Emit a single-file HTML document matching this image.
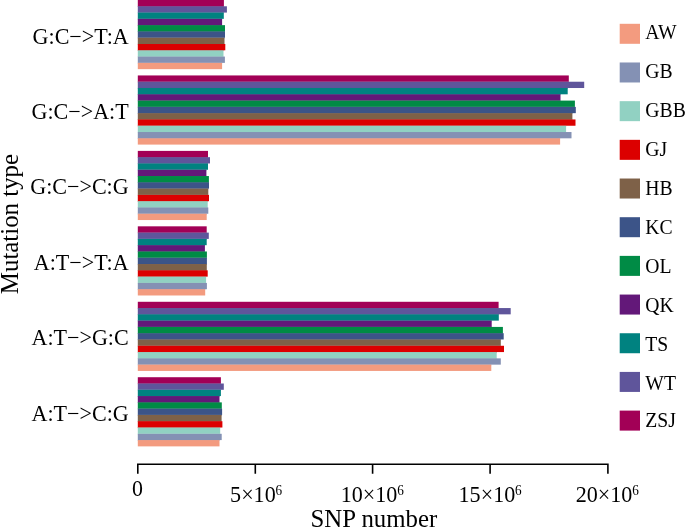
<!DOCTYPE html><html><head><meta charset="utf-8"><style>html,body{margin:0;padding:0;background:#fff;width:685px;height:528px;overflow:hidden}svg{display:block;will-change:transform}text{font-family:"Liberation Serif",serif;fill:#000;}</style></head><body>
<svg width="685" height="528" viewBox="0 0 685 528">
<rect x="137.8" y="0.00" width="86.10" height="6.287" fill="#A20056"/>
<rect x="137.8" y="6.19" width="86.10" height="0.7" fill="#A20056"/>
<rect x="137.8" y="6.29" width="89.10" height="6.287" fill="#5F559B"/>
<rect x="137.8" y="12.47" width="86.00" height="0.7" fill="#5F559B"/>
<rect x="137.8" y="12.57" width="86.00" height="6.287" fill="#008280"/>
<rect x="137.8" y="18.76" width="84.30" height="0.7" fill="#008280"/>
<rect x="137.8" y="18.86" width="84.30" height="6.287" fill="#631879"/>
<rect x="137.8" y="25.05" width="84.30" height="0.7" fill="#631879"/>
<rect x="137.8" y="25.15" width="87.20" height="6.287" fill="#008B45"/>
<rect x="137.8" y="31.33" width="87.20" height="0.7" fill="#008B45"/>
<rect x="137.8" y="31.43" width="87.20" height="6.287" fill="#3C5488"/>
<rect x="137.8" y="37.62" width="86.70" height="0.7" fill="#3C5488"/>
<rect x="137.8" y="37.72" width="86.70" height="6.287" fill="#7E6148"/>
<rect x="137.8" y="43.91" width="86.70" height="0.7" fill="#7E6148"/>
<rect x="137.8" y="44.01" width="87.50" height="6.287" fill="#DC0000"/>
<rect x="137.8" y="50.20" width="85.70" height="0.7" fill="#DC0000"/>
<rect x="137.8" y="50.30" width="85.70" height="6.287" fill="#91D1C2"/>
<rect x="137.8" y="56.48" width="85.70" height="0.7" fill="#91D1C2"/>
<rect x="137.8" y="56.58" width="87.10" height="6.287" fill="#8491B4"/>
<rect x="137.8" y="62.77" width="84.30" height="0.7" fill="#8491B4"/>
<rect x="137.8" y="62.87" width="84.30" height="6.287" fill="#F39B7F"/>
<rect x="137.8" y="75.44" width="431.00" height="6.287" fill="#A20056"/>
<rect x="137.8" y="81.63" width="431.00" height="0.7" fill="#A20056"/>
<rect x="137.8" y="81.73" width="446.40" height="6.287" fill="#5F559B"/>
<rect x="137.8" y="87.92" width="429.90" height="0.7" fill="#5F559B"/>
<rect x="137.8" y="88.02" width="429.90" height="6.287" fill="#008280"/>
<rect x="137.8" y="94.21" width="422.70" height="0.7" fill="#008280"/>
<rect x="137.8" y="94.30" width="422.70" height="6.287" fill="#631879"/>
<rect x="137.8" y="100.49" width="422.70" height="0.7" fill="#631879"/>
<rect x="137.8" y="100.59" width="437.10" height="6.287" fill="#008B45"/>
<rect x="137.8" y="106.78" width="437.10" height="0.7" fill="#008B45"/>
<rect x="137.8" y="106.88" width="438.00" height="6.287" fill="#3C5488"/>
<rect x="137.8" y="113.07" width="434.60" height="0.7" fill="#3C5488"/>
<rect x="137.8" y="113.17" width="434.60" height="6.287" fill="#7E6148"/>
<rect x="137.8" y="119.35" width="434.60" height="0.7" fill="#7E6148"/>
<rect x="137.8" y="119.45" width="437.70" height="6.287" fill="#DC0000"/>
<rect x="137.8" y="125.64" width="428.30" height="0.7" fill="#DC0000"/>
<rect x="137.8" y="125.74" width="428.30" height="6.287" fill="#91D1C2"/>
<rect x="137.8" y="131.93" width="428.30" height="0.7" fill="#91D1C2"/>
<rect x="137.8" y="132.03" width="433.70" height="6.287" fill="#8491B4"/>
<rect x="137.8" y="138.21" width="422.30" height="0.7" fill="#8491B4"/>
<rect x="137.8" y="138.31" width="422.30" height="6.287" fill="#F39B7F"/>
<rect x="137.8" y="150.89" width="70.20" height="6.287" fill="#A20056"/>
<rect x="137.8" y="157.08" width="70.20" height="0.7" fill="#A20056"/>
<rect x="137.8" y="157.18" width="72.20" height="6.287" fill="#5F559B"/>
<rect x="137.8" y="163.36" width="70.20" height="0.7" fill="#5F559B"/>
<rect x="137.8" y="163.46" width="70.20" height="6.287" fill="#008280"/>
<rect x="137.8" y="169.65" width="68.60" height="0.7" fill="#008280"/>
<rect x="137.8" y="169.75" width="68.60" height="6.287" fill="#631879"/>
<rect x="137.8" y="175.94" width="68.60" height="0.7" fill="#631879"/>
<rect x="137.8" y="176.04" width="71.10" height="6.287" fill="#008B45"/>
<rect x="137.8" y="182.22" width="71.10" height="0.7" fill="#008B45"/>
<rect x="137.8" y="182.32" width="71.20" height="6.287" fill="#3C5488"/>
<rect x="137.8" y="188.51" width="70.50" height="0.7" fill="#3C5488"/>
<rect x="137.8" y="188.61" width="70.50" height="6.287" fill="#7E6148"/>
<rect x="137.8" y="194.80" width="70.50" height="0.7" fill="#7E6148"/>
<rect x="137.8" y="194.90" width="71.20" height="6.287" fill="#DC0000"/>
<rect x="137.8" y="201.08" width="69.90" height="0.7" fill="#DC0000"/>
<rect x="137.8" y="201.18" width="69.90" height="6.287" fill="#91D1C2"/>
<rect x="137.8" y="207.37" width="69.90" height="0.7" fill="#91D1C2"/>
<rect x="137.8" y="207.47" width="70.50" height="6.287" fill="#8491B4"/>
<rect x="137.8" y="213.66" width="68.90" height="0.7" fill="#8491B4"/>
<rect x="137.8" y="213.76" width="68.90" height="6.287" fill="#F39B7F"/>
<rect x="137.8" y="226.33" width="68.90" height="6.287" fill="#A20056"/>
<rect x="137.8" y="232.52" width="68.90" height="0.7" fill="#A20056"/>
<rect x="137.8" y="232.62" width="71.00" height="6.287" fill="#5F559B"/>
<rect x="137.8" y="238.81" width="68.90" height="0.7" fill="#5F559B"/>
<rect x="137.8" y="238.91" width="68.90" height="6.287" fill="#008280"/>
<rect x="137.8" y="245.09" width="67.10" height="0.7" fill="#008280"/>
<rect x="137.8" y="245.19" width="67.10" height="6.287" fill="#631879"/>
<rect x="137.8" y="251.38" width="67.10" height="0.7" fill="#631879"/>
<rect x="137.8" y="251.48" width="69.10" height="6.287" fill="#008B45"/>
<rect x="137.8" y="257.67" width="69.10" height="0.7" fill="#008B45"/>
<rect x="137.8" y="257.77" width="69.10" height="6.287" fill="#3C5488"/>
<rect x="137.8" y="263.95" width="69.00" height="0.7" fill="#3C5488"/>
<rect x="137.8" y="264.05" width="69.00" height="6.287" fill="#7E6148"/>
<rect x="137.8" y="270.24" width="69.00" height="0.7" fill="#7E6148"/>
<rect x="137.8" y="270.34" width="69.90" height="6.287" fill="#DC0000"/>
<rect x="137.8" y="276.53" width="68.30" height="0.7" fill="#DC0000"/>
<rect x="137.8" y="276.63" width="68.30" height="6.287" fill="#91D1C2"/>
<rect x="137.8" y="282.81" width="68.30" height="0.7" fill="#91D1C2"/>
<rect x="137.8" y="282.92" width="69.10" height="6.287" fill="#8491B4"/>
<rect x="137.8" y="289.10" width="67.40" height="0.7" fill="#8491B4"/>
<rect x="137.8" y="289.20" width="67.40" height="6.287" fill="#F39B7F"/>
<rect x="137.8" y="301.78" width="360.80" height="6.287" fill="#A20056"/>
<rect x="137.8" y="307.96" width="360.80" height="0.7" fill="#A20056"/>
<rect x="137.8" y="308.06" width="372.90" height="6.287" fill="#5F559B"/>
<rect x="137.8" y="314.25" width="361.00" height="0.7" fill="#5F559B"/>
<rect x="137.8" y="314.35" width="361.00" height="6.287" fill="#008280"/>
<rect x="137.8" y="320.54" width="353.90" height="0.7" fill="#008280"/>
<rect x="137.8" y="320.64" width="353.90" height="6.287" fill="#631879"/>
<rect x="137.8" y="326.82" width="353.90" height="0.7" fill="#631879"/>
<rect x="137.8" y="326.92" width="365.10" height="6.287" fill="#008B45"/>
<rect x="137.8" y="333.11" width="365.10" height="0.7" fill="#008B45"/>
<rect x="137.8" y="333.21" width="365.90" height="6.287" fill="#3C5488"/>
<rect x="137.8" y="339.40" width="363.00" height="0.7" fill="#3C5488"/>
<rect x="137.8" y="339.50" width="363.00" height="6.287" fill="#7E6148"/>
<rect x="137.8" y="345.68" width="363.00" height="0.7" fill="#7E6148"/>
<rect x="137.8" y="345.78" width="366.20" height="6.287" fill="#DC0000"/>
<rect x="137.8" y="351.97" width="358.90" height="0.7" fill="#DC0000"/>
<rect x="137.8" y="352.07" width="358.90" height="6.287" fill="#91D1C2"/>
<rect x="137.8" y="358.26" width="358.90" height="0.7" fill="#91D1C2"/>
<rect x="137.8" y="358.36" width="363.00" height="6.287" fill="#8491B4"/>
<rect x="137.8" y="364.55" width="353.50" height="0.7" fill="#8491B4"/>
<rect x="137.8" y="364.65" width="353.50" height="6.287" fill="#F39B7F"/>
<rect x="137.8" y="377.22" width="83.10" height="6.287" fill="#A20056"/>
<rect x="137.8" y="383.41" width="83.10" height="0.7" fill="#A20056"/>
<rect x="137.8" y="383.51" width="86.00" height="6.287" fill="#5F559B"/>
<rect x="137.8" y="389.69" width="83.10" height="0.7" fill="#5F559B"/>
<rect x="137.8" y="389.79" width="83.10" height="6.287" fill="#008280"/>
<rect x="137.8" y="395.98" width="81.70" height="0.7" fill="#008280"/>
<rect x="137.8" y="396.08" width="81.70" height="6.287" fill="#631879"/>
<rect x="137.8" y="402.27" width="81.70" height="0.7" fill="#631879"/>
<rect x="137.8" y="402.37" width="84.00" height="6.287" fill="#008B45"/>
<rect x="137.8" y="408.55" width="84.00" height="0.7" fill="#008B45"/>
<rect x="137.8" y="408.65" width="84.30" height="6.287" fill="#3C5488"/>
<rect x="137.8" y="414.84" width="83.80" height="0.7" fill="#3C5488"/>
<rect x="137.8" y="414.94" width="83.80" height="6.287" fill="#7E6148"/>
<rect x="137.8" y="421.13" width="83.80" height="0.7" fill="#7E6148"/>
<rect x="137.8" y="421.23" width="84.60" height="6.287" fill="#DC0000"/>
<rect x="137.8" y="427.42" width="82.40" height="0.7" fill="#DC0000"/>
<rect x="137.8" y="427.52" width="82.40" height="6.287" fill="#91D1C2"/>
<rect x="137.8" y="433.70" width="82.40" height="0.7" fill="#91D1C2"/>
<rect x="137.8" y="433.80" width="83.90" height="6.287" fill="#8491B4"/>
<rect x="137.8" y="439.99" width="81.70" height="0.7" fill="#8491B4"/>
<rect x="137.8" y="440.09" width="81.70" height="6.287" fill="#F39B7F"/>
<path d="M137.0 464.2H608.7M137.8 464.2V473.7M255.3 464.2V473.7M372.6 464.2V473.7M490.1 464.2V473.7M607.9 464.2V473.7" stroke="#000" stroke-width="1.6" fill="none"/>
<text transform="translate(128.70,43.50) scale(0.977,1)" font-size="22.6" text-anchor="end">G:C−>T:A</text>
<text transform="translate(128.70,118.94) scale(0.977,1)" font-size="22.6" text-anchor="end">G:C−>A:T</text>
<text transform="translate(128.70,194.39) scale(0.977,1)" font-size="22.6" text-anchor="end">G:C−>C:G</text>
<text transform="translate(128.70,269.83) scale(0.977,1)" font-size="22.6" text-anchor="end">A:T−>T:A</text>
<text transform="translate(128.70,345.28) scale(0.977,1)" font-size="22.6" text-anchor="end">A:T−>G:C</text>
<text transform="translate(128.70,420.72) scale(0.977,1)" font-size="22.6" text-anchor="end">A:T−>C:G</text>
<text transform="translate(137.40,496.40) scale(0.96,1)" font-size="22.8" text-anchor="middle">0</text>
<text transform="translate(256.10,501.90) scale(0.97,1)" font-size="22.8" text-anchor="middle">5×10<tspan font-size="13.6" dx="-0.2" dy="-7.2">6</tspan></text>
<text transform="translate(372.20,501.90) scale(0.97,1)" font-size="22.8" text-anchor="middle">10×10<tspan font-size="13.6" dx="-0.2" dy="-7.2">6</tspan></text>
<text transform="translate(490.10,501.90) scale(0.97,1)" font-size="22.8" text-anchor="middle">15×10<tspan font-size="13.6" dx="-0.2" dy="-7.2">6</tspan></text>
<text transform="translate(607.20,501.90) scale(0.97,1)" font-size="22.8" text-anchor="middle">20×10<tspan font-size="13.6" dx="-0.2" dy="-7.2">6</tspan></text>
<text transform="translate(373.90,526.70) scale(0.994,1)" font-size="25" text-anchor="middle">SNP number</text>
<text transform="translate(17.6,224.05) rotate(-90) scale(1.024,1)" font-size="24.3" text-anchor="middle">Mutation type</text>
<rect x="619.7" y="23.80" width="20.3" height="20" fill="#F39B7F"/>
<text transform="translate(645.30,38.80) scale(0.975,1)" font-size="20.2" text-anchor="start">AW</text>
<rect x="619.7" y="62.48" width="20.3" height="20" fill="#8491B4"/>
<text transform="translate(645.30,77.79) scale(0.975,1)" font-size="20.2" text-anchor="start">GB</text>
<rect x="619.7" y="101.16" width="20.3" height="20" fill="#91D1C2"/>
<text transform="translate(645.30,116.78) scale(0.975,1)" font-size="20.2" text-anchor="start">GBB</text>
<rect x="619.7" y="139.84" width="20.3" height="20" fill="#DC0000"/>
<text transform="translate(645.30,155.77) scale(0.975,1)" font-size="20.2" text-anchor="start">GJ</text>
<rect x="619.7" y="178.52" width="20.3" height="20" fill="#7E6148"/>
<text transform="translate(645.30,194.76) scale(0.975,1)" font-size="20.2" text-anchor="start">HB</text>
<rect x="619.7" y="217.20" width="20.3" height="20" fill="#3C5488"/>
<text transform="translate(645.30,233.75) scale(0.975,1)" font-size="20.2" text-anchor="start">KC</text>
<rect x="619.7" y="255.88" width="20.3" height="20" fill="#008B45"/>
<text transform="translate(645.30,272.74) scale(0.975,1)" font-size="20.2" text-anchor="start">OL</text>
<rect x="619.7" y="294.56" width="20.3" height="20" fill="#631879"/>
<text transform="translate(645.30,311.73) scale(0.975,1)" font-size="20.2" text-anchor="start">QK</text>
<rect x="619.7" y="333.24" width="20.3" height="20" fill="#008280"/>
<text transform="translate(645.30,350.72) scale(0.975,1)" font-size="20.2" text-anchor="start">TS</text>
<rect x="619.7" y="371.92" width="20.3" height="20" fill="#5F559B"/>
<text transform="translate(645.30,389.71) scale(0.975,1)" font-size="20.2" text-anchor="start">WT</text>
<rect x="619.7" y="410.60" width="20.3" height="20" fill="#A20056"/>
<text transform="translate(645.30,427.40) scale(0.975,1)" font-size="20.2" text-anchor="start">ZSJ</text>
</svg></body></html>
